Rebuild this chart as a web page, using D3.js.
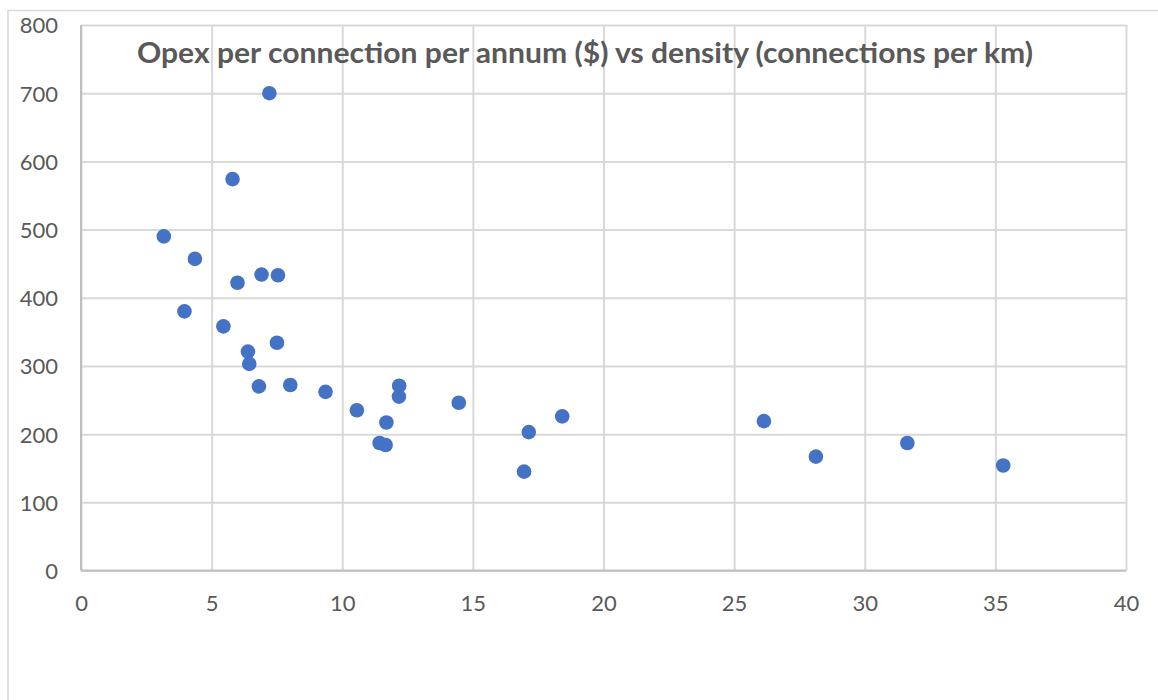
<html>
<head>
  <script src="https://d3js.org/d3.v7.min.js"></script>
  <style>
    body { margin: 0; background: #fff; }
    .gridlines line { stroke: #d9d9d9; stroke-width: 2; }
    .gridlines .domain { stroke: none; }
    .gridlines text { fill: #595959; font-family: Lato, sans-serif; font-size: 22px; }
  </style>
</head>
<body>
  <svg id="svg1" width=1158 height=700></svg>
  <script>
    // density (connections per km)
    const density = [7.21, 5.80, 3.17, 4.36, 5.99, 6.91, 7.54, 3.96, 5.45, 6.39,
                     6.44, 7.50, 6.81, 8.01, 9.36, 10.56, 11.69, 12.18, 12.17, 11.43,
                     11.66, 14.46, 17.14, 18.42, 16.96, 26.14, 28.13, 31.63, 35.30];
    // opex per connection per annum ($)
    const opex = [700, 574, 490, 457, 422, 434, 433, 380, 358, 321,
                  303, 334, 270, 272, 262, 235, 217, 271, 255, 187,
                  184, 246, 203, 226, 145, 219, 167, 187, 154];
    const xTicks = [0, 5, 10, 15, 20, 25, 30, 35, 40];
    const yTicks = [0, 100, 200, 300, 400, 500, 600, 700, 800];
    const title = "Opex per connection per annum ($) vs density (connections per km)";

    let svg = d3.select("svg#svg1");

    // outer chart border (right / bottom edges run off the page)
    svg.append("rect")
      .attr("x", 8).attr("y", 10.5)
      .attr("width", 1300).attr("height", 900)
      .attr("fill", "none")
      .attr("stroke", "#d9d9d9")
      .attr("stroke-width", 1.5);

    let margin = { top: 25, left: 81, bottom: 129.5, right: 32 };
    let chartWidth = svg.attr('width') - margin.left - margin.right;
    let chartHeight = svg.attr('height') - margin.top - margin.bottom;

    const xScale = d3.scaleLinear().domain([0, 40]).range([0, chartWidth]);
    const yScale = d3.scaleLinear().domain([0, 800]).range([chartHeight, 0]);

    let leftGridlines = d3.axisLeft(yScale)
      .tickValues(yTicks)
      .tickSize(-chartWidth)
      .tickPadding(23);
    let yAxisG = svg.append('g')
      .attr("class", "y gridlines")
      .attr('transform', `translate(${margin.left},${margin.top})`)
      .call(leftGridlines);
    yAxisG.selectAll("text").attr("dy", "0.36em");

    let botGridlines = d3.axisBottom(xScale)
      .tickValues(xTicks)
      .tickSize(-chartHeight)
      .tickPadding(0);
    let xAxisG = svg.append('g')
      .attr("class", "x gridlines")
      .attr('transform', `translate(${margin.left},${margin.top + chartHeight})`)
      .call(botGridlines);
    xAxisG.selectAll("text").attr("y", 40).attr("dy", 0);

    // axis lines
    svg.append("line")
      .attr("x1", margin.left).attr("x2", margin.left)
      .attr("y1", margin.top).attr("y2", margin.top + chartHeight)
      .attr("stroke", "#bfbfbf").attr("stroke-width", 2);
    svg.append("line")
      .attr("x1", margin.left).attr("x2", margin.left + chartWidth)
      .attr("y1", margin.top + chartHeight).attr("y2", margin.top + chartHeight)
      .attr("stroke", "#bfbfbf").attr("stroke-width", 2);

    // title
    svg.append("text")
      .attr("x", 585)
      .attr("y", 63)
      .attr("text-anchor", "middle")
      .attr("textLength", 896)
      .attr("lengthAdjust", "spacingAndGlyphs")
      .style("font-family", "Lato, sans-serif")
      .style("font-weight", "bold")
      .style("font-size", "28px")
      .style("fill", "#595959")
      .text(title);

    let chartArea = svg.append('g')
      .attr('transform', `translate(${margin.left}, ${margin.top})`);

    chartArea.selectAll("circle").data(density)
      .join("circle")
      .attr("cx", d => xScale(d))
      .attr("cy", (d, i) => yScale(opex[i]))
      .attr("r", 7.3)
      .attr("fill", "#4472c4");
  </script>
</body>
</html>
